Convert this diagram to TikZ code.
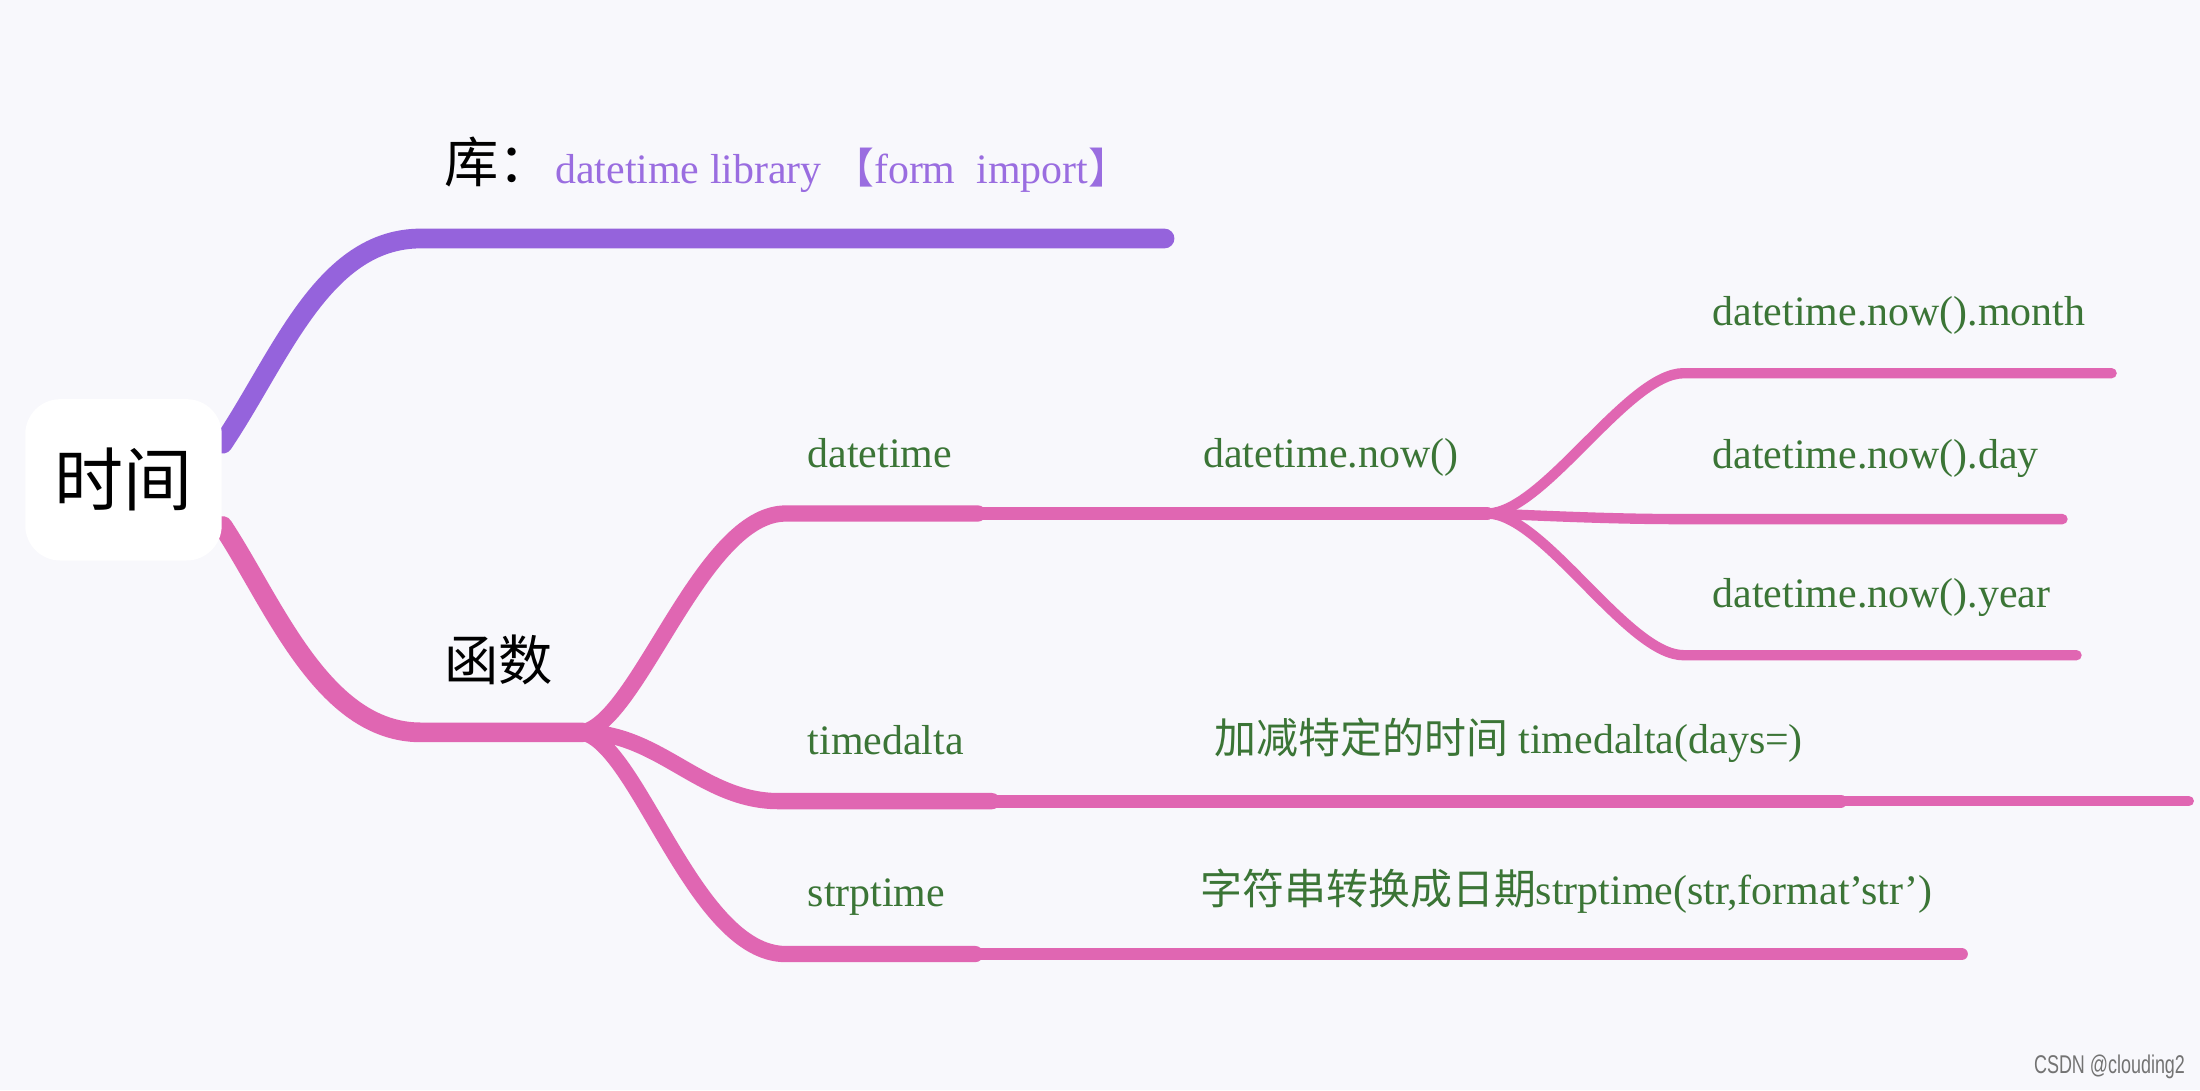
\documentclass[tikz,border=0pt]{standalone}
\usepackage{fontspec}
\setmainfont{Liberation Serif}
\newfontfamily\cjk{Noto Sans CJK SC}
\newfontfamily\marksans{Liberation Sans}
\usetikzlibrary{positioning}

\definecolor{bgcol}{HTML}{F8F8FC}
\definecolor{libpurple}{HTML}{9563DC}
\definecolor{libtext}{HTML}{9A6DE0}
\definecolor{fnpink}{HTML}{E066B2}
\definecolor{leafgreen}{HTML}{3B7536}

\pgfdeclarelayer{bg}
\pgfdeclarelayer{links}
\pgfsetlayers{bg,links,main}

\begin{document}
\begin{tikzpicture}[
  x=0.1mm, y=-0.1mm,
  root/.style={fill=white, rounded corners=2.5mm, minimum width=14mm, minimum height=11.5mm, font=\cjk\fontsize{14}{16}\selectfont},
  topic/.style={anchor=base west, inner sep=0pt, font=\cjk\fontsize{11}{13}\selectfont},
  leaf/.style={anchor=base west, inner sep=0pt, text=leafgreen, font=\fontsize{8.5}{10}\selectfont},
  lvlA/.style={line width=4pt, line cap=round},
  lvlB/.style={fnpink, line width=3.3pt, line cap=round},
  lvlC/.style={fnpink, line width=2.6pt, line cap=round},
  lvlD/.style={fnpink, line width=2.1pt, line cap=round}
]
\begin{pgfonlayer}{bg}
\fill[bgcol] (0,0) rectangle (1568,777);
\end{pgfonlayer}
\useasboundingbox (0,0) rectangle (1568,777);

\node[root] (root) at (88,342) {时间};

% branch points
\coordinate (lib) at (300,170);
\coordinate (libEnd) at (830,170);
\coordinate (fn) at (300,522);
\coordinate (fnEnd) at (415,522);
\coordinate (dt) at (560,366);
\coordinate (dtEnd) at (697,366);
\coordinate (nowEnd) at (1060,366);
\coordinate (mon) at (1200,266);
\coordinate (monEnd) at (1505,266);
\coordinate (day) at (1200,370);
\coordinate (dayEnd) at (1470,370);
\coordinate (yr) at (1200,467);
\coordinate (yrEnd) at (1480,467);
\coordinate (td) at (555,571);
\coordinate (tdEnd) at (707,571);
\coordinate (addEnd) at (1312,571);
\coordinate (tailEnd) at (1560,571);
\coordinate (sp) at (560,680);
\coordinate (spEnd) at (695,680);
\coordinate (convEnd) at (1398,680);

% labels
\node[topic] (libLabel) at (316,130) {库：};
\node[anchor=base west, inner sep=0pt, text=libtext, font=\fontsize{8.5}{10}\selectfont] (libText) at (395,131) {datetime library {\cjk 【}form\ \ import{\cjk 】}};
\node[topic] (fnLabel) at (316,485) {函数};
\node[leaf] (dtLabel) at (575,333) {datetime};
\node[leaf] (nowLabel) at (857,333) {datetime.now()};
\node[leaf] (monLabel) at (1220,232) {datetime.now().month};
\node[leaf] (dayLabel) at (1220,334) {datetime.now().day};
\node[leaf] (yrLabel) at (1220,433) {datetime.now().year};
\node[leaf] (tdLabel) at (575,538) {timedalta};
\node[leaf] (addLabel) at (865,537) {{\cjk 加减特定的时间} timedalta(days=)};
\node[leaf] (spLabel) at (575,646) {strptime};
\node[leaf] (convLabel) at (855,645) {{\cjk 字符串转换成日期}strptime(str,format’str’)};
\node[anchor=base east, inner sep=0pt, text=black!55, font=\marksans\fontsize{5.2}{6}\selectfont] (mark) at (1558,765) {\scalebox{0.7}[1]{CSDN @clouding2}};

\begin{pgfonlayer}{links}
\draw[lvlA, libpurple] (root.20) .. controls (200,255) and (230,170) .. (lib) -- (libEnd);
\draw[lvlA, fnpink] (root.-25) .. controls (195,430) and (230,522) .. (fn) -- (fnEnd);
\draw[lvlB] (fnEnd) .. controls (455,515) and (500,366) .. (dt) -- (dtEnd);
\draw[lvlC] (dtEnd) -- (nowEnd);
\draw[lvlD] (nowEnd) .. controls (1100,366) and (1160,266) .. (mon) -- (monEnd);
\draw[lvlD] (nowEnd) .. controls (1110,368) and (1150,370) .. (day) -- (dayEnd);
\draw[lvlD] (nowEnd) .. controls (1100,366) and (1160,467) .. (yr) -- (yrEnd);
\draw[lvlB] (fnEnd) .. controls (470,522) and (500,571) .. (td) -- (tdEnd);
\draw[lvlC] (tdEnd) -- (addEnd);
\draw[lvlD] (addEnd) -- (tailEnd);
\draw[lvlB] (fnEnd) .. controls (455,530) and (495,680) .. (sp) -- (spEnd);
\draw[lvlC] (spEnd) -- (convEnd);
\end{pgfonlayer}
\end{tikzpicture}
\end{document}
